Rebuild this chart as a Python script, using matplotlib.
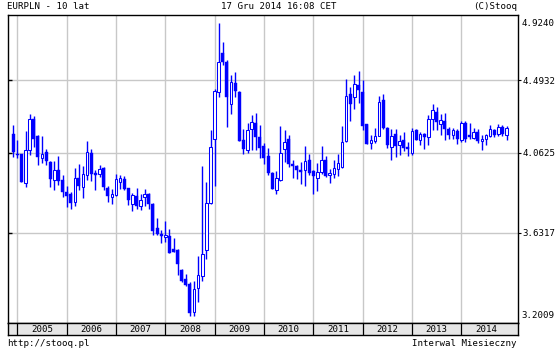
import matplotlib
matplotlib.use("Agg")
import matplotlib.pyplot as plt
from matplotlib.ticker import NullLocator, FixedLocator, NullFormatter
import pandas as pd

# ---------------- data (monthly EURPLN, Dec 2004 .. Dec 2014) ----------------
months = pd.period_range("2004-12", "2014-12", freq="M")
opens = [4.172, 4.057, 4.053, 3.894, 4.076, 4.260, 4.160, 4.029, 4.064, 4.008, 3.912, 3.963,
         3.912, 3.847, 3.833, 3.793, 3.923, 3.872, 3.938, 4.062, 3.947, 3.943, 3.974, 3.868,
         3.818, 3.829, 3.899, 3.914, 3.865, 3.783, 3.822, 3.772, 3.815, 3.833, 3.781, 3.658,
         3.627, 3.610, 3.617, 3.552, 3.543, 3.446, 3.406, 3.382, 3.250, 3.363, 3.419, 3.543,
         3.786, 4.143, 4.419, 4.668, 4.612, 4.345, 4.477, 4.423, 4.133, 4.076, 4.196, 4.231,
         4.152, 4.099, 4.042, 3.950, 3.857, 3.908, 4.080, 4.143, 3.997, 3.989, 3.963, 3.967,
         4.019, 3.959, 3.923, 3.952, 4.019, 3.939, 3.945, 3.969, 3.982, 4.129, 4.412, 4.388,
         4.462, 4.421, 4.225, 4.118, 4.129, 4.160, 4.371, 4.207, 4.095, 4.168, 4.105, 4.133,
         4.095, 4.061, 4.192, 4.137, 4.168, 4.152, 4.256, 4.297, 4.229, 4.245, 4.201, 4.166,
         4.184, 4.137, 4.231, 4.166, 4.147, 4.178, 4.128, 4.143, 4.160, 4.192, 4.168, 4.209,
         4.166]
highs = [4.221, 4.133, 4.057, 4.186, 4.287, 4.275, 4.166, 4.156, 4.080, 4.012, 4.016, 4.042,
         3.936, 3.875, 3.843, 3.973, 3.997, 3.986, 4.128, 4.082, 3.963, 3.991, 3.982, 3.879,
         3.863, 3.945, 3.936, 3.930, 3.868, 3.841, 3.868, 3.836, 3.863, 3.840, 3.786, 3.709,
         3.644, 3.690, 3.648, 3.607, 3.548, 3.451, 3.430, 3.390, 3.393, 3.514, 3.987, 3.896,
         4.192, 4.443, 4.866, 4.741, 4.623, 4.525, 4.546, 4.429, 4.201, 4.231, 4.281, 4.291,
         4.221, 4.116, 4.088, 3.953, 3.958, 4.215, 4.192, 4.162, 4.023, 3.992, 4.010, 4.099,
         4.057, 3.963, 4.001, 4.099, 4.042, 3.969, 4.019, 4.057, 4.215, 4.500, 4.453, 4.527,
         4.552, 4.495, 4.228, 4.162, 4.205, 4.396, 4.408, 4.211, 4.196, 4.201, 4.164, 4.180,
         4.124, 4.205, 4.201, 4.182, 4.176, 4.283, 4.347, 4.327, 4.285, 4.295, 4.211, 4.207,
         4.196, 4.245, 4.245, 4.231, 4.205, 4.198, 4.166, 4.172, 4.221, 4.201, 4.227, 4.221,
         4.217]
lows = [4.038, 4.034, 3.897, 3.872, 4.049, 4.095, 3.991, 4.004, 3.993, 3.872, 3.854, 3.883,
        3.815, 3.765, 3.755, 3.772, 3.854, 3.813, 3.912, 3.905, 3.854, 3.927, 3.854, 3.791,
        3.781, 3.822, 3.863, 3.854, 3.774, 3.744, 3.756, 3.751, 3.772, 3.756, 3.619, 3.619,
        3.580, 3.585, 3.530, 3.533, 3.422, 3.392, 3.372, 3.231, 3.234, 3.296, 3.395, 3.502,
        3.779, 3.877, 4.388, 4.591, 4.211, 4.287, 4.388, 4.127, 4.057, 4.062, 4.076, 4.076,
        4.029, 3.997, 3.936, 3.858, 3.831, 3.905, 4.010, 3.982, 3.921, 3.914, 3.886, 3.877,
        3.936, 3.834, 3.850, 3.945, 3.927, 3.894, 3.923, 3.930, 3.976, 4.124, 4.247, 4.315,
        4.355, 4.192, 4.110, 4.080, 4.118, 4.156, 4.201, 4.089, 4.023, 4.038, 4.047, 4.072,
        4.044, 4.047, 4.133, 4.108, 4.085, 4.108, 4.192, 4.192, 4.162, 4.133, 4.139, 4.141,
        4.114, 4.124, 4.124, 4.139, 4.139, 4.118, 4.076, 4.105, 4.149, 4.149, 4.156, 4.156,
        4.133]
closes = [4.066, 4.049, 3.899, 4.076, 4.260, 4.143, 4.038, 4.057, 4.016, 3.916, 3.967, 3.905,
          3.845, 3.824, 3.786, 3.923, 3.879, 3.941, 4.068, 3.941, 3.938, 3.971, 3.872, 3.824,
          3.836, 3.917, 3.923, 3.861, 3.800, 3.827, 3.772, 3.800, 3.833, 3.783, 3.641, 3.627,
          3.615, 3.622, 3.532, 3.535, 3.478, 3.395, 3.374, 3.247, 3.358, 3.425, 3.527, 3.788,
          4.093, 4.427, 4.614, 4.612, 4.392, 4.483, 4.429, 4.129, 4.082, 4.192, 4.237, 4.152,
          4.089, 4.034, 3.949, 3.861, 3.923, 4.062, 4.120, 3.997, 3.987, 3.967, 3.954, 4.017,
          3.949, 3.930, 3.956, 4.023, 3.934, 3.950, 3.978, 4.001, 4.120, 4.394, 4.345, 4.468,
          4.433, 4.217, 4.114, 4.133, 4.160, 4.363, 4.205, 4.107, 4.156, 4.101, 4.128, 4.091,
          4.080, 4.186, 4.137, 4.168, 4.149, 4.256, 4.311, 4.239, 4.250, 4.201, 4.162, 4.192,
          4.141, 4.231, 4.141, 4.149, 4.182, 4.129, 4.141, 4.162, 4.196, 4.162, 4.211, 4.168,
          4.207]
y_ticks = [3.6317, 4.0625, 4.4932]
y_min, y_max = 3.2009, 4.9240
year_labels = ["2005", "2006", "2007", "2008", "2009", "2010", "2011", "2012", "2013", "2014"]

title_left = "EURPLN - 10 lat"
title_mid = "17 Gru 2014 16:08 CET"
title_right = "(C)Stooq"
foot_left = "http://stooq.pl"
foot_right = "Interwal Miesieczny"

# ---------------- drawing ----------------
W, H = 560, 350
FONT = dict(family="DejaVu Sans Mono", size=6.6, color="black")
BLUE = "#0000ff"
GRID = "#c8c8c8"

fig = plt.figure(figsize=(W / 100, H / 100), dpi=100)
fig.patch.set_facecolor("white")

L, R, T, B = 8, 518, 15, 323
ax = fig.add_axes([L / W, 1 - B / H, (R - L) / W, (B - T) / H])
ax.set_yscale("log")
ax.set_ylim(y_min, y_max)
ax.set_xlim(-1.265, 122.79)

x = list(range(len(months)))
jan_idx = [i for i, m in enumerate(months) if m.month == 1]

# grid
ax.vlines(jan_idx, y_min, y_max, color=GRID, lw=1.0, zorder=0)
ax.hlines(y_ticks, -5, 130, color=GRID, lw=1.0, zorder=0)

# candles
ax.vlines(x, lows, highs, color=BLUE, lw=1.0, zorder=2)
for i in x:
    o, c = opens[i], closes[i]
    lo, hi = min(o, c), max(o, c)
    if c > o:
        ax.bar(i, hi - lo, bottom=lo, width=0.62, facecolor="white",
               edgecolor=BLUE, linewidth=0.75, zorder=3)
    else:
        ax.bar(i, hi - lo, bottom=lo, width=0.72, facecolor=BLUE,
               edgecolor=BLUE, linewidth=0.3, zorder=3)

for s in ax.spines.values():
    s.set_color("black")
    s.set_linewidth(1.0)

ax.xaxis.set_major_locator(NullLocator())
ax.yaxis.set_minor_locator(NullLocator())
ax.yaxis.set_minor_formatter(NullFormatter())
ax.yaxis.set_major_locator(FixedLocator(y_ticks))
ax.set_yticklabels([f"{v:.4f}" for v in y_ticks])
ax.yaxis.tick_right()
ax.tick_params(axis="y", direction="out", length=2.3, width=0.8, pad=1.0,
               labelsize=FONT["size"], colors="black")
for lab in ax.get_yticklabels():
    lab.set_family(FONT["family"])
# inner ticks on the left axis
ax.hlines(y_ticks, 0, 3.5 / (R - L), transform=ax.get_yaxis_transform(),
          color="black", lw=1.0, zorder=4, clip_on=False)

# end labels of the value axis (shifted inside)
fig.text(521.5 / W, 1 - 23 / H, f"{y_max:.4f}", ha="left", va="center", **FONT)
fig.text(521.5 / W, 1 - 315 / H, f"{y_min:.4f}", ha="left", va="center", **FONT)

# year bar
bax = fig.add_axes([L / W, 1 - 335 / H, (R - L) / W, 12 / H])
bax.set_facecolor("#e6e6e6")
bax.set_xlim(ax.get_xlim())
bax.set_ylim(0, 1)
bax.vlines(jan_idx, 0, 1, color="black", lw=0.9)
for k, lab in enumerate(year_labels):
    bax.text(jan_idx[k] + 6, 0.45, lab, ha="center", va="center", **FONT)
bax.set_xticks([])
bax.set_yticks([])
for s in bax.spines.values():
    s.set_color("black")
    s.set_linewidth(1.0)

# header / footer texts
fig.text(7 / W, 1 - 6.5 / H, title_left, ha="left", va="center", **FONT)
fig.text(279 / W, 1 - 6.5 / H, title_mid, ha="center", va="center", **FONT)
fig.text(517 / W, 1 - 6.5 / H, title_right, ha="right", va="center", **FONT)
fig.text(7 / W, 1 - 343 / H, foot_left, ha="left", va="center", **FONT)
fig.text(517 / W, 1 - 343 / H, foot_right, ha="right", va="center", **FONT)

fig.savefig("out.png", dpi=100, facecolor="white")
